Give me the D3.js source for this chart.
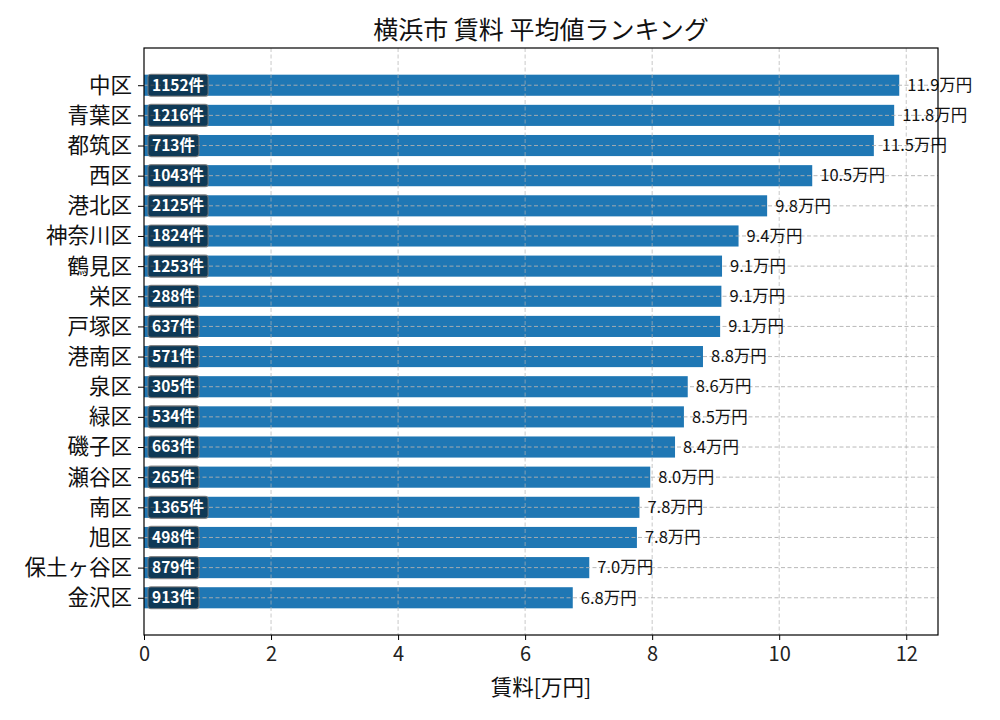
<!DOCTYPE html>
<html>
<head>
<meta charset="utf-8">
<script src="https://cdn.jsdelivr.net/npm/d3@7"></script>
<style>
  body { margin: 0; background: #fff; }
  svg text { font-family: "Noto Sans CJK JP", "Noto Sans", sans-serif; }
</style>
</head>
<body>
<svg id="chart" width="1000" height="720"></svg>
<script>
// 区名 (上から順)
const wards = ['中区', '青葉区', '都筑区', '西区', '港北区', '神奈川区', '鶴見区', '栄区', '戸塚区',
    '港南区', '泉区', '緑区', '磯子区', '瀬谷区', '南区', '旭区', '保土ヶ谷区', '金沢区'];
// 平均賃料 (万円)
const rents = [11.89, 11.81, 11.49, 10.52, 9.81, 9.36, 9.10, 9.09, 9.07,
    8.80, 8.56, 8.50, 8.36, 7.97, 7.80, 7.76, 7.01, 6.75];
// 件数
const counts = [1152, 1216, 713, 1043, 2125, 1824, 1253, 288, 637,
    571, 305, 534, 663, 265, 1365, 498, 879, 913];
const xTicks = [0, 2, 4, 6, 8, 10, 12];

const data = wards.map((w, i) => ({ ward: w, rent: rents[i], count: counts[i], idx: i }));

const svg = d3.select('#chart');
const margin = { left: 144, right: 62, top: 48, bottom: 85 };
const width = 1000, height = 720;
const innerW = width - margin.left - margin.right;
const innerH = height - margin.top - margin.bottom;

const x = d3.scaleLinear().domain([0, 12.5]).range([margin.left, margin.left + innerW]);
// matplotlib style: index positions with 5% margins
const y = d3.scaleLinear().domain([-1.235, wards.length - 1 + 1.235]).range([margin.top, margin.top + innerH]);
const barH = (y(0.35) - y(-0.35));

const g = svg.append('g');

// bars
g.append('g')
    .selectAll('rect')
    .data(data)
    .join('rect')
    .attr('x', x(0))
    .attr('y', d => y(d.idx) - barH / 2)
    .attr('width', d => x(d.rent) - x(0))
    .attr('height', barH)
    .attr('fill', '#1f77b4');

// grid (drawn over bars)
const grid = g.append('g');
grid.selectAll('line.vx')
    .data(xTicks.slice(1))
    .join('line')
    .attr('class', 'vx')
    .attr('x1', d => x(d)).attr('x2', d => x(d))
    .attr('y1', margin.top).attr('y2', margin.top + innerH)
    .attr('stroke', '#b0b0b0')
    .attr('stroke-opacity', 0.7)
    .attr('stroke-dasharray', '4,2.5');
grid.selectAll('line.hy')
    .data(data)
    .join('line')
    .attr('class', 'hy')
    .attr('x1', margin.left).attr('x2', margin.left + innerW)
    .attr('y1', d => y(d.idx)).attr('y2', d => y(d.idx))
    .attr('stroke', '#b0b0b0')
    .attr('stroke-opacity', 0.9)
    .attr('stroke-dasharray', '4,2.5');

// value labels
g.append('g')
    .selectAll('text')
    .data(data)
    .join('text')
    .attr('x', d => x(d.rent) + 8)
    .attr('y', d => y(d.idx))
    .attr('dy', '0.35em')
    .style('font-size', '16.5px')
    .attr('fill', '#111')
    .text(d => d.rent.toFixed(1) + '万円');

// count badges
const badge = g.append('g')
    .selectAll('g')
    .data(data)
    .join('g')
    .attr('transform', d => `translate(${x(0) + 8},${y(d.idx)})`);

badge.append('text')
    .attr('dy', '0.35em')
    .style('font-size', '15.5px')
    .attr('font-weight', 'bold')
    .attr('fill', '#fff')
    .text(d => d.count + '件');

badge.each(function() {
    const t = d3.select(this).select('text');
    const bb = t.node().getBBox();
    d3.select(this).insert('rect', 'text')
        .attr('x', bb.x - 4)
        .attr('y', -11)
        .attr('width', bb.width + 8)
        .attr('height', 22)
        .attr('rx', 3)
        .attr('fill', '#000')
        .attr('fill-opacity', 0.52)
        .attr('stroke', '#777')
        .attr('stroke-opacity', 0.8)
        .attr('stroke-width', 1.2);
});

// axes
const xAxis = d3.axisBottom(x).tickValues(xTicks).tickSize(5).tickPadding(7).tickFormat(d3.format('d'));
const xg = svg.append('g')
    .attr('transform', `translate(0,${margin.top + innerH})`)
    .call(xAxis);
xg.select('.domain').remove();
xg.selectAll('text').style('font-size', '20px').attr('fill', '#222');
xg.selectAll('line').attr('stroke', '#000');

const yAxis = d3.axisLeft(y).tickValues(data.map(d => d.idx)).tickSize(6).tickPadding(6)
    .tickFormat(i => wards[i]);
const yg = svg.append('g')
    .attr('transform', `translate(${margin.left},0)`)
    .call(yAxis);
yg.select('.domain').remove();
yg.selectAll('text').style('font-size', '21.5px').attr('fill', '#111');
yg.selectAll('line').attr('stroke', '#000');

// frame
svg.append('rect')
    .attr('x', margin.left).attr('y', margin.top)
    .attr('width', innerW).attr('height', innerH)
    .attr('fill', 'none').attr('stroke', '#000').attr('stroke-width', 1.2);

// title & label
svg.append('text')
    .attr('x', margin.left + innerW / 2).attr('y', 39)
    .attr('text-anchor', 'middle')
    .style('font-size', '25px')
    .attr('fill', '#111')
    .text('横浜市 賃料 平均値ランキング');

svg.append('text')
    .attr('x', margin.left + innerW / 2).attr('y', 695)
    .attr('text-anchor', 'middle')
    .style('font-size', '21.5px')
    .attr('fill', '#111')
    .text('賃料[万円]');
</script>
</body>
</html>
